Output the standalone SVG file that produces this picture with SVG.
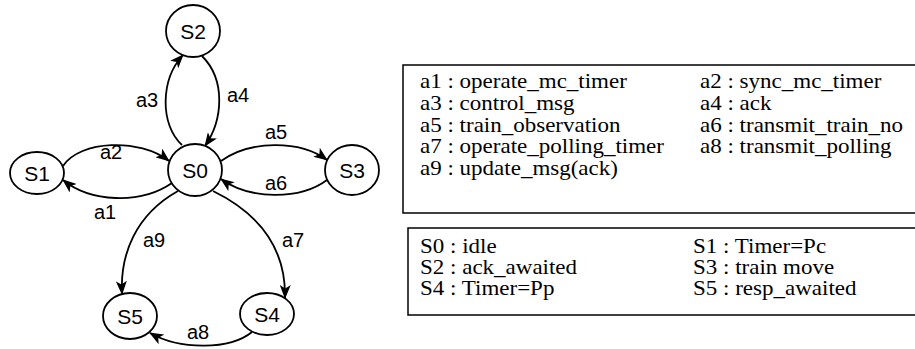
<svg xmlns="http://www.w3.org/2000/svg" width="915" height="349" viewBox="0 0 915 349">
  <style>
    .state ellipse { fill: #fff; stroke: #000; stroke-width: 1.8; }
    .state text { font-family: "Liberation Sans", Arial, sans-serif; font-size: 21px; text-anchor: middle; fill: #000; }
    .edge { fill: none; stroke: #000; stroke-width: 1.8; marker-end: url(#arrow); }
    .elabel { font-family: "Liberation Sans", Arial, sans-serif; font-size: 20px; text-anchor: middle; fill: #000; }
    .legend rect { fill: #fff; stroke: #000; stroke-width: 1.5; }
    .legend text { font-family: "Liberation Serif", "Times New Roman", serif; font-size: 20px; fill: #000; }
  </style>
  <defs>
    <marker id="arrow" markerUnits="userSpaceOnUse" markerWidth="14" markerHeight="11" refX="13" refY="5.5" orient="auto">
      <path d="M0,0 L14,5.5 L0,11 L3.5,5.5 z" fill="#000"/>
    </marker>
  </defs>

  <!-- transitions -->
  <g id="connectors">
    <path id="e-a3" class="edge" d="M182,145 C160,125 160,80 183,55"/>
    <path id="e-a4" class="edge" d="M202,56 C226,80 223,120 205,146"/>
    <path id="e-a2" class="edge" d="M63,166 C80,140 140,138 169,161"/>
    <path id="e-a1" class="edge" d="M172,183 C140,205 90,202 63,180"/>
    <path id="e-a5" class="edge" d="M221,161 C250,140 300,140 327,160"/>
    <path id="e-a6" class="edge" d="M327,180 C300,200 250,200 221,179"/>
    <path id="e-a9" class="edge" d="M178,191 C135,215 120,255 122,294"/>
    <path id="e-a7" class="edge" d="M213,191 C262,215 286,250 285,298"/>
    <path id="e-a8" class="edge" d="M252,332 C230,350 180,350 150,333"/>
    <text class="elabel" x="147" y="107">a3</text>
    <text class="elabel" x="238" y="102">a4</text>
    <text class="elabel" x="276" y="139">a5</text>
    <text class="elabel" x="111" y="159">a2</text>
    <text class="elabel" x="276" y="190">a6</text>
    <text class="elabel" x="105" y="219">a1</text>
    <text class="elabel" x="154" y="247">a9</text>
    <text class="elabel" x="293" y="247">a7</text>
    <text class="elabel" x="198" y="339">a8</text>
  </g>

  <!-- states -->
  <g id="S0" class="state"><ellipse cx="195" cy="170" rx="27" ry="26"/><text x="195" y="177.5">S0</text></g>
  <g id="S1" class="state"><ellipse cx="37" cy="173" rx="27" ry="21"/><text x="37" y="180.5">S1</text></g>
  <g id="S2" class="state"><ellipse cx="193" cy="31" rx="27" ry="26"/><text x="193" y="38.5">S2</text></g>
  <g id="S3" class="state"><ellipse cx="352" cy="170" rx="27" ry="25"/><text x="352" y="177.5">S3</text></g>
  <g id="S4" class="state"><ellipse cx="267" cy="314" rx="27" ry="21"/><text x="267" y="321.5">S4</text></g>
  <g id="S5" class="state"><ellipse cx="130" cy="316" rx="27" ry="23"/><text x="130" y="323.5">S5</text></g>

  <!-- action legend (text set slightly wide) -->
  <g id="actions" class="legend">
    <rect x="403" y="65" width="520" height="148"/>
    <g transform="translate(420 0) scale(1.15 1)">
      <text x="0" y="88">a1 : operate_mc_timer</text>
      <text x="243.5" y="88">a2 : sync_mc_timer</text>
      <text x="0" y="110">a3 : control_msg</text>
      <text x="243.5" y="110">a4 : ack</text>
      <text x="0" y="132">a5 : train_observation</text>
      <text x="243.5" y="132">a6 : transmit_train_no</text>
      <text x="0" y="153">a7 : operate_polling_timer</text>
      <text x="243.5" y="153">a8 : transmit_polling</text>
      <text x="0" y="175">a9 : update_msg(ack)</text>
    </g>
  </g>

  <!-- state legend -->
  <g id="states" class="legend">
    <rect x="408" y="228" width="515" height="87"/>
    <g transform="translate(420 0) scale(1.15 1)">
      <text x="0" y="253">S0 : idle</text>
      <text x="237.4" y="253">S1 : Timer=Pc</text>
      <text x="0" y="274">S2 : ack_awaited</text>
      <text x="237.4" y="274">S3 : train move</text>
      <text x="0" y="295">S4 : Timer=Pp</text>
      <text x="237.4" y="295">S5 : resp_awaited</text>
    </g>
  </g>
</svg>
